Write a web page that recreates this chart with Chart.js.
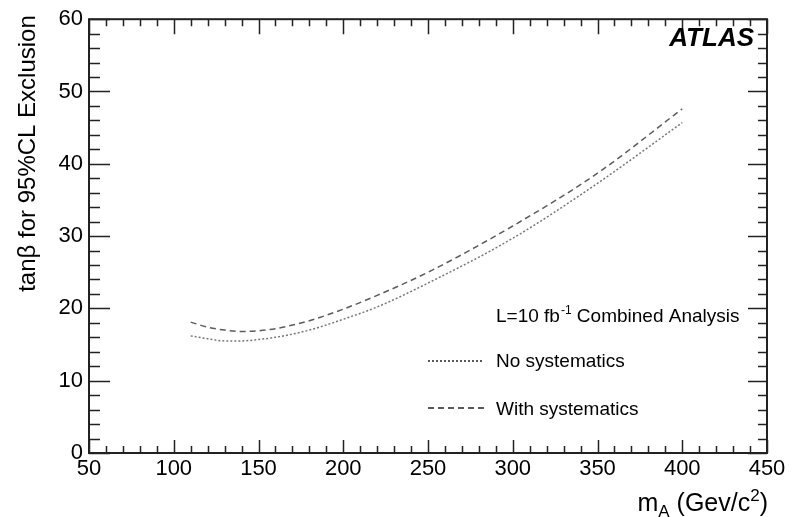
<!DOCTYPE html>
<html>
<head>
<meta charset="utf-8">
<script src="https://cdn.jsdelivr.net/npm/chart.js@4.4.0/dist/chart.umd.min.js"></script>
<style>
  html, body { margin: 0; padding: 0; background: #fff; }
  #wrap { width: 800px; height: 517px; }
</style>
</head>
<body>
<div id="wrap"><canvas id="chart-line"></canvas></div>
<script>
var massPoints = [110, 120, 130, 140, 150, 160, 180, 200, 220, 250, 300, 350, 400];
var noSystematics = [16.2, 15.8, 15.5, 15.5, 15.7, 16.0, 17.0, 18.5, 20.2, 23.5, 29.7, 37.3, 45.7];
var withSystematics = [18.1, 17.4, 17.0, 16.8, 16.9, 17.2, 18.3, 19.9, 21.8, 25.0, 31.4, 38.7, 47.6];
var xTicks = [50, 100, 150, 200, 250, 300, 350, 400, 450];
var yTicks = [0, 10, 20, 30, 40, 50, 60];
var seriesNames = ["No systematics", "With systematics"];

var FONT = "'Liberation Sans', Arial, sans-serif";

function toPoints(xs, ys) {
  return xs.map(function (x, i) { return { x: x, y: ys[i] }; });
}

// frame + ROOT style inward ticks
var frame = {
  id: 'frame',
  afterDatasetsDraw: function (chart) {
    var c = chart.ctx, a = chart.chartArea;
    var sx = chart.scales.x, sy = chart.scales.y;
    c.save();
    c.strokeStyle = '#222';
    c.lineWidth = 2;
    c.strokeRect(a.left, a.top, a.right - a.left, a.bottom - a.top);
    c.lineWidth = 1.5;
    c.beginPath();
    var xStep = (xTicks[1] - xTicks[0]) / 5;
    for (var i = 0; xTicks[0] + i * xStep <= xTicks[xTicks.length - 1] + 1e-6; i++) {
      var px = Math.round(sx.getPixelForValue(xTicks[0] + i * xStep)) + 0.5;
      var major = i % 5 === 0;
      c.moveTo(px, a.bottom); c.lineTo(px, a.bottom - (major ? 13 : 7));
      c.moveTo(px, a.top); c.lineTo(px, a.top + (major ? 15 : 7));
    }
    var yStep = (yTicks[1] - yTicks[0]) / 5;
    for (var j = 0; yTicks[0] + j * yStep <= yTicks[yTicks.length - 1] + 1e-6; j++) {
      var py = Math.round(sy.getPixelForValue(yTicks[0] + j * yStep)) + 0.5;
      var maj = j % 5 === 0;
      c.moveTo(a.left, py); c.lineTo(a.left + (maj ? 21 : 11), py);
      c.moveTo(a.right, py); c.lineTo(a.right - (maj ? 19 : 9), py);
    }
    c.stroke();
    c.restore();
  }
};

// titles, ATLAS label and the in-frame legend
var annotations = {
  id: 'annotations',
  afterDraw: function (chart) {
    var c = chart.ctx, a = chart.chartArea;
    c.save();
    c.fillStyle = '#000';
    c.textBaseline = 'alphabetic';

    // ATLAS
    c.font = "italic bold 26px " + FONT;
    c.textAlign = 'right';
    c.fillText('ATLAS', a.right - 13, a.top + 27);

    // y title, top aligned
    c.save();
    c.translate(35, a.top - 4);
    c.rotate(-Math.PI / 2);
    c.font = "24px " + FONT;
    c.textAlign = 'right';
    c.fillText('tan\u03B2 for 95%CL Exclusion', 0, 0);
    c.restore();

    // x title: m_A (Gev/c^2), right aligned
    c.textAlign = 'left';
    var big = "25px " + FONT, small = "17px " + FONT;
    var parts = [
      { t: 'm', f: big, dy: 0 },
      { t: 'A', f: small, dy: 6 },
      { t: ' (Gev/c', f: big, dy: 0 },
      { t: '2', f: small, dy: -10 },
      { t: ')', f: big, dy: 0 }
    ];
    var total = 0;
    parts.forEach(function (p) { c.font = p.f; total += c.measureText(p.t).width; });
    var x = a.right + 1 - total, base = 511;
    parts.forEach(function (p) {
      c.font = p.f;
      c.fillText(p.t, x, base + p.dy);
      x += c.measureText(p.t).width;
    });

    // luminosity line
    var lx = 496;
    c.font = "19px " + FONT;
    c.fillText('L=10 fb', lx, 322);
    var w = c.measureText('L=10 fb').width;
    c.font = "12px " + FONT;
    c.fillText('-1', lx + w + 1, 314);
    var w2 = c.measureText('-1').width;
    c.font = "19px " + FONT;
    c.fillText(' Combined Analysis', lx + w + w2 + 1, 322);

    // legend entries
    var rows = [
      { y: 367, line: 361, x1: 483 },
      { y: 415, line: 408, x1: 486 }
    ];
    chart.data.datasets.forEach(function (ds, k) {
      var r = rows[k];
      c.save();
      c.strokeStyle = '#222';
      c.lineWidth = 1.5;
      c.setLineDash(ds.borderDash);
      c.beginPath();
      c.moveTo(428, r.line);
      c.lineTo(r.x1, r.line);
      c.stroke();
      c.restore();
      c.font = "19px " + FONT;
      c.fillText(seriesNames[k], lx, r.y);
    });
    c.restore();
  }
};

var ctx1 = document.getElementById("chart-line").getContext("2d");

new Chart(ctx1, {
  type: "line",
  data: {
    datasets: [{
      label: seriesNames[0],
      data: toPoints(massPoints, noSystematics),
      borderColor: "#777",
      borderWidth: 1.5,
      borderDash: [2, 2],
      pointRadius: 0,
      cubicInterpolationMode: 'monotone',
      fill: false
    }, {
      label: seriesNames[1],
      data: toPoints(massPoints, withSystematics),
      borderColor: "#5c5c5c",
      borderWidth: 1.5,
      borderDash: [6, 4],
      pointRadius: 0,
      cubicInterpolationMode: 'monotone',
      fill: false
    }]
  },
  options: {
    responsive: true,
    maintainAspectRatio: false,
    devicePixelRatio: 1,
    animation: false,
    layout: { padding: { left: 0, top: 16, right: 33, bottom: 0 } },
    plugins: {
      legend: { display: false },
      tooltip: { enabled: false }
    },
    scales: {
      x: {
        type: 'linear',
        min: xTicks[0],
        max: xTicks[xTicks.length - 1],
        afterBuildTicks: function (s) { s.ticks = xTicks.map(function (v) { return { value: v }; }); },
        afterFit: function (s) { s.height = 64; },
        grid: { display: false, drawTicks: false },
        border: { display: false },
        ticks: {
          autoSkip: false,
          maxRotation: 0,
          color: '#000',
          padding: 3,
          font: { size: 22, family: FONT }
        }
      },
      y: {
        min: yTicks[0],
        max: yTicks[yTicks.length - 1],
        afterBuildTicks: function (s) { s.ticks = yTicks.map(function (v) { return { value: v }; }); },
        afterFit: function (s) { s.width = 89; },
        grid: { display: false, drawTicks: false },
        border: { display: false },
        ticks: {
          autoSkip: false,
          color: '#000',
          padding: 6,
          font: { size: 22, family: FONT }
        }
      }
    }
  },
  plugins: [frame, annotations]
});
</script>
</body>
</html>
